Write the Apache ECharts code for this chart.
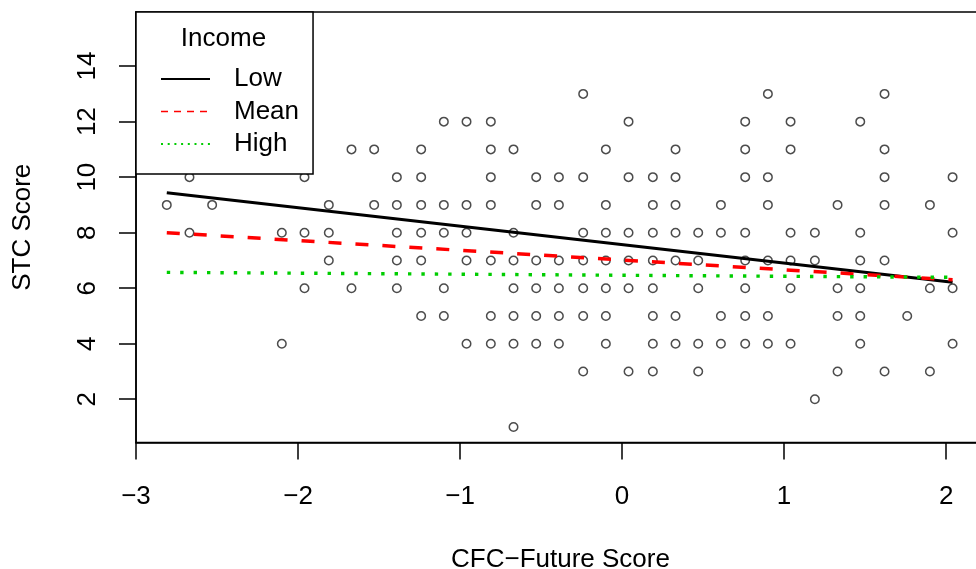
<!DOCTYPE html>
<html>
<head>
<meta charset="utf-8">
<script src="https://cdn.jsdelivr.net/npm/echarts@6/dist/echarts.min.js"></script>
<style>
html,body{margin:0;padding:0;background:#fff;}
#chart{width:976px;height:569px;}
</style>
</head>
<body>
<div id="chart"></div>
<script>
// CFC-Future score columns (x) and the STC scores observed at each column
const cfcColumns = [-2.81, -2.67, -2.53, -2.10, -1.96, -1.81, -1.67, -1.53, -1.39, -1.24,
  -1.10, -0.96, -0.81, -0.67, -0.53, -0.39, -0.24, -0.10, 0.04, 0.19,
  0.33, 0.47, 0.61, 0.76, 0.90, 1.04, 1.19, 1.33, 1.47, 1.62,
  1.76, 1.90, 2.04];
const stcScores = [
  [9], [10, 8], [9], [8, 4], [10, 8, 6], [9, 8, 7], [11, 6], [11, 9], [10, 9, 8, 7, 6], [11, 10, 9, 8, 7, 5],
  [12, 9, 8, 6, 5], [12, 9, 8, 7, 4], [12, 11, 10, 9, 7, 5, 4], [11, 8, 7, 6, 5, 4, 1], [10, 9, 7, 6, 5, 4],
  [10, 9, 7, 6, 5, 4], [13, 10, 8, 7, 6, 5, 3], [11, 9, 8, 7, 6, 5, 4], [12, 10, 8, 7, 6, 3],
  [10, 9, 8, 7, 6, 5, 4, 3], [11, 10, 9, 8, 7, 5, 4], [8, 7, 6, 4, 3], [9, 8, 5, 4],
  [12, 11, 10, 8, 7, 6, 5, 4], [13, 10, 9, 7, 5, 4], [12, 11, 8, 7, 6, 4], [8, 7, 2],
  [9, 6, 5, 3], [12, 8, 7, 6, 5, 4], [13, 11, 10, 9, 7, 3], [5], [9, 6, 3], [10, 8, 6, 4]
];
// fitted lines by income level: [x, y] endpoints
const lowLine = [[-2.81, 9.44], [2.04, 6.21]];
const meanLine = [[-2.81, 8.00], [2.04, 6.30]];
const highLine = [[-2.81, 6.57], [2.04, 6.39]];
const xTicks = [-3, -2, -1, 0, 1, 2];
const yTicks = [2, 4, 6, 8, 10, 12, 14];
const legendNames = ['Low', 'Mean', 'High'];

const points = [];
cfcColumns.forEach((x, i) => stcScores[i].forEach(y => points.push([x, y])));

const FONT = 'Liberation Sans, Arial, Helvetica, sans-serif';
const minus = v => String(v).replace('-', '\u2212');

const chart = echarts.init(document.getElementById('chart'), null, {renderer: 'canvas'});
chart.setOption({
  animation: false,
  backgroundColor: '#fff',
  grid: {left: 136, top: 12, width: 849, height: 430.5, show: true, borderColor: '#000', borderWidth: 1.5,
    backgroundColor: 'transparent', containLabel: false, outerBoundsMode: 'none'},
  xAxis: {
    type: 'value', min: -3, max: 2.24,
    name: 'CFC\u2212Future Score', nameLocation: 'middle', nameGap: 104,
    nameTextStyle: {fontSize: 26, color: '#000', fontFamily: FONT},
    axisLine: {show: true, onZero: false, lineStyle: {color: '#000', width: 1.5}},
    axisTick: {show: true, length: 17, lineStyle: {color: '#000', width: 1.5}, customValues: xTicks},
    axisLabel: {fontSize: 26, color: '#000', fontFamily: FONT, margin: 41, customValues: xTicks, formatter: minus},
    splitLine: {show: false}
  },
  yAxis: {
    type: 'value', min: 0.44, max: 15.95,
    name: 'STC Score', nameLocation: 'middle', nameGap: 100, nameRotate: 90,
    nameTextStyle: {fontSize: 26, color: '#000', fontFamily: FONT},
    axisLine: {show: true, onZero: false, lineStyle: {color: '#000', width: 1.5}},
    axisTick: {show: true, length: 17, lineStyle: {color: '#000', width: 1.5}, customValues: yTicks},
    axisLabel: {fontSize: 26, color: '#000', fontFamily: FONT, margin: 35, rotate: 90, customValues: yTicks, formatter: minus},
    splitLine: {show: false}
  },
  legend: {
    orient: 'vertical', left: 136, top: 12,
    padding: [54, 14, 17, 24],
    itemGap: 6.5, itemWidth: 49, itemHeight: 14,
    backgroundColor: '#fff', borderColor: '#000', borderWidth: 1.5, borderRadius: 0,
    textStyle: {fontSize: 26, lineHeight: 26, color: '#000', fontFamily: FONT, padding: [0, 0, 0, 19]},
    itemStyle: {opacity: 0},
    selectedMode: false,
    data: [
      {name: 'Low', lineStyle: {width: 2, type: 'solid'}},
      {name: 'Mean', lineStyle: {width: 1.5, type: [7, 6]}},
      {name: 'High', lineStyle: {width: 2, type: [2, 4.7]}}
    ]
  },
  graphic: [{
    type: 'text', z: 100,
    style: {x: 223.5, y: 38.5, text: 'Income', textAlign: 'center', textVerticalAlign: 'middle', font: '26px ' + FONT, fill: '#000'}
  }],
  series: [
    {
      type: 'scatter', name: 'points', data: points, symbol: 'circle', symbolSize: 8.5,
      itemStyle: {color: 'rgba(0,0,0,0)', borderColor: 'rgba(0,0,0,0.88)', borderWidth: 1.5},
      silent: true, z: 2
    },
    {
      type: 'line', name: legendNames[0], data: lowLine, symbol: 'none', showSymbol: false,
      lineStyle: {color: '#000', width: 3, type: 'solid'}, itemStyle: {color: '#000'}, z: 3
    },
    {
      type: 'line', name: legendNames[1], data: meanLine, symbol: 'none', showSymbol: false,
      lineStyle: {color: '#ff0000', width: 3.5, type: [13, 14]}, itemStyle: {color: '#ff0000'}, z: 3
    },
    {
      type: 'line', name: legendNames[2], data: highLine, symbol: 'none', showSymbol: false,
      lineStyle: {color: '#00cd00', width: 3.4, type: [3.4, 10]}, itemStyle: {color: '#00cd00'}, z: 3
    }
  ]
});
</script>
</body>
</html>
